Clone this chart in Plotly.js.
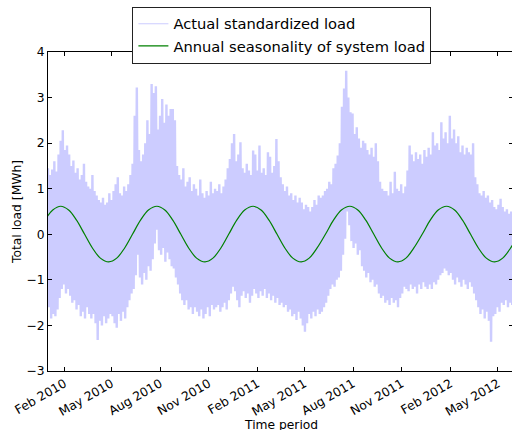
<!DOCTYPE html>
<html>
<head>
<meta charset="utf-8">
<script src="https://cdn.plot.ly/plotly-3.0.1.min.js"></script>
<style>
  html, body { margin: 0; padding: 0; overflow: hidden; background: #fff; }
  #chart { width: 514px; height: 430px; }
</style>
</head>
<body>
<div id="chart"></div>
<script>
// Standardized system load: daily high / low envelope, one sample every 4 days from 2010-01-01
const sampleStart = '2010-01-01';
const sampleStepDays = 4;

const loadHigh = [
  1.45, 1.3, 1.42, 1.6, 1.38, 1.75, 2.05, 2.28, 1.85, 1.95,
  1.75, 1.5, 1.62, 1.35, 1.45, 1.2, 1.3, 1.55, 1.15, 1.05,
  1.0, 1.3, 0.95, 0.85, 0.75, 0.7, 0.8, 0.65, 0.7, 0.9,
  0.75, 0.95, 1.1, 1.25, 0.9, 0.85, 1.05, 0.95, 1.1, 1.3,
  1.55, 2.6, 3.22, 1.85, 1.6, 1.75, 2.0, 2.5, 2.2, 3.3,
  3.1, 3.25, 2.3, 2.6, 2.97, 2.45, 2.85, 2.6, 2.75, 2.75,
  2.5, 1.5, 1.3, 1.2, 1.45, 1.05, 1.15, 1.25, 0.95, 1.1,
  1.0, 0.85, 1.2, 0.9, 0.8, 0.95, 0.85, 1.15, 0.9, 1.0,
  0.95, 1.1, 0.9, 1.05, 1.2, 1.45, 1.65, 2.0, 2.2, 1.6,
  1.75, 2.02, 1.45, 1.35, 1.55, 1.4, 1.3, 1.84, 1.75, 1.4,
  1.95, 1.35, 1.45, 1.3, 1.8, 1.7, 1.35, 1.5, 2.09, 1.6,
  1.25, 1.1, 0.95, 1.05, 0.85, 0.9, 0.75, 0.85, 0.7, 0.8,
  0.7, 0.55, 0.65, 0.6, 0.5, 0.6, 0.75, 0.65, 0.85, 0.8,
  0.85, 0.95, 1.0, 1.15, 1.1, 1.45, 1.55, 1.73, 2.0, 2.8,
  3.2, 3.59, 3.0, 2.68, 2.65, 2.2, 2.35, 2.1, 1.9, 2.05,
  2.0, 1.85, 1.75, 1.9, 1.7, 2.0, 1.6, 1.15, 1.0, 0.95,
  0.95, 0.85, 1.15, 0.9, 1.37, 1.0, 0.95, 1.1, 0.9, 1.05,
  1.4, 1.95, 1.75, 1.6, 1.8, 1.65, 1.75, 1.55, 1.85, 1.7,
  1.9, 1.75, 2.24, 1.95, 2.0, 1.85, 2.46, 2.1, 2.24, 2.0,
  2.6, 2.1, 2.3, 2.0, 2.15, 1.8, 1.95, 1.75, 1.9, 1.8,
  1.75, 2.0, 1.25, 1.1, 0.9, 0.85, 0.95, 0.8, 0.85, 0.7,
  0.75, 0.6, 0.55, 0.65, 0.78, 0.6, 0.5, 0.55, 0.45, 0.5
];

const loadLow = [
  -1.6, -1.85, -1.75, -1.8, -1.65, -1.4, -1.2, -1.1, -1.3, -1.2,
  -1.35, -1.5, -1.45, -1.65, -1.55, -1.8, -1.7, -1.85, -1.6, -1.75,
  -1.85, -1.75, -1.95, -2.32, -1.9, -2.0, -1.8, -1.95, -1.85, -1.75,
  -1.8, -1.95, -2.05, -1.75, -1.9, -1.7, -1.85, -1.6, -1.45, -1.3,
  -1.2, -0.9, -0.45, -0.95, -1.1, -0.85, -1.0, -0.7, -0.8, -0.55,
  -0.2, 0.1, -0.35, -0.45, -0.3, -0.6, -0.4, -0.55, -0.7, -0.75,
  -0.95, -1.1, -1.3, -1.45, -1.55, -1.45, -1.65, -1.6, -1.75, -1.6,
  -1.7, -1.8, -1.65, -1.85, -1.75, -1.6, -1.8, -1.55, -1.65, -1.6,
  -1.55, -1.7, -1.6, -1.5, -1.65, -1.45, -1.3, -1.15, -1.25, -1.45,
  -1.6, -1.35, -1.25, -1.4, -1.3, -1.5, -1.35, -1.2, -1.3, -1.4,
  -1.25, -1.35, -1.2, -1.4, -1.3, -1.45, -1.35, -1.5, -1.4, -1.55,
  -1.5, -1.6, -1.55, -1.7, -1.65, -1.8, -1.75, -1.88, -1.7, -1.85,
  -2.0, -2.14, -1.95, -1.75, -1.85, -1.7, -1.8, -1.65, -1.75, -1.7,
  -1.6, -1.5, -1.35, -1.2, -1.1, -1.15, -1.0, -0.95, -0.8, -0.45,
  -0.1, 0.5, 0.2, -0.15, -0.3, -0.2, -0.45, -0.35, -0.7, -0.8,
  -0.95, -0.85, -1.05, -1.0, -1.15, -1.1, -1.3, -1.4, -1.35, -1.5,
  -1.45, -1.55, -1.4, -1.5, -1.45, -1.6, -1.4, -1.3, -1.15, -1.2,
  -1.25, -1.1, -1.2, -1.15, -1.3, -1.1, -1.2, -1.05, -1.15, -1.2,
  -1.1, -1.2, -1.05, -1.1, -1.0, -0.9, -0.85, -0.75, -0.8, -0.9,
  -0.85, -1.0, -1.1, -0.95, -1.05, -1.15, -1.0, -1.1, -1.2, -1.05,
  -1.15, -1.3, -1.45, -1.6, -1.75, -1.65, -1.85, -1.7, -1.9, -2.36,
  -1.8, -1.75, -1.6, -1.7, -1.5, -1.55, -1.45, -1.6, -1.5, -1.55
];

// Fitted seasonal component of the system load
const seasonDates = [
  '2009-12-26', '2010-01-10', '2010-01-25', '2010-02-09', '2010-02-24', '2010-03-11', '2010-03-26', '2010-04-10',
  '2010-04-26', '2010-05-11', '2010-05-26', '2010-06-10', '2010-06-25', '2010-07-10', '2010-07-26', '2010-08-10',
  '2010-08-25', '2010-09-09', '2010-09-24', '2010-10-09', '2010-10-25', '2010-11-09', '2010-11-24', '2010-12-09',
  '2010-12-24', '2011-01-08', '2011-01-24', '2011-02-08', '2011-02-23', '2011-03-10', '2011-03-25', '2011-04-09',
  '2011-04-25', '2011-05-10', '2011-05-25', '2011-06-10', '2011-06-25', '2011-07-10', '2011-07-26', '2011-08-10',
  '2011-08-25', '2011-09-09', '2011-09-24', '2011-10-09', '2011-10-25', '2011-11-09', '2011-11-24', '2011-12-10',
  '2011-12-25', '2012-01-09', '2012-01-25', '2012-02-09', '2012-02-24', '2012-03-10', '2012-03-25', '2012-04-09',
  '2012-04-25', '2012-05-10', '2012-05-25', '2012-06-09'
];
const seasonValues = [
  0.31, 0.533, 0.615, 0.533, 0.31, 0.005, -0.30, -0.523,
  -0.605, -0.523, -0.30, 0.005, 0.31, 0.533, 0.615, 0.533,
  0.31, 0.005, -0.30, -0.523, -0.605, -0.523, -0.30, 0.005,
  0.31, 0.533, 0.615, 0.533, 0.31, 0.005, -0.30, -0.523,
  -0.605, -0.523, -0.30, 0.005, 0.31, 0.533, 0.615, 0.533,
  0.31, 0.005, -0.30, -0.523, -0.605, -0.523, -0.30, 0.005,
  0.31, 0.533, 0.615, 0.533, 0.31, 0.005, -0.30, -0.523,
  -0.605, -0.523, -0.30, 0.005
];

const tickDates = [
  '2010-02-01', '2010-05-01', '2010-08-01', '2010-11-01', '2011-02-01',
  '2011-05-01', '2011-08-01', '2011-11-01', '2012-02-01', '2012-05-01'
];
const tickLabels = [
  'Feb 2010', 'May 2010', 'Aug 2010', 'Nov 2010', 'Feb 2011',
  'May 2011', 'Aug 2011', 'Nov 2011', 'Feb 2012', 'May 2012'
];

// The raw series swings between the daily high and low; trace it as one line
const DAY = 86400000;
const t0 = Date.parse(sampleStart + 'T00:00:00Z');
const loadX = [];
const loadY = [];
for (let i = 0; i < loadHigh.length; i++) {
  const t = t0 + i * sampleStepDays * DAY;
  loadX.push(new Date(t).toISOString().slice(0, 19));
  loadY.push(loadHigh[i]);
  loadX.push(new Date(t + (sampleStepDays / 2) * DAY).toISOString().slice(0, 19));
  loadY.push(loadLow[i]);
}

const FONT = 'DejaVu Sans, Verdana, sans-serif';
const LOAD_COLOR = 'rgb(204,204,255)';

const traces = [
  {
    // dense load trace; its legend key is the thin-line entry below
    type: 'scatter', mode: 'lines',
    name: 'Actual standardized load',
    x: loadX, y: loadY,
    line: { color: LOAD_COLOR, width: 2.4 },
    showlegend: false,
    hoverinfo: 'skip'
  },
  {
    type: 'scatter', mode: 'lines',
    name: 'Actual standardized load',
    x: [null], y: [null],
    line: { color: LOAD_COLOR, width: 1 }
  },
  {
    type: 'scatter', mode: 'lines',
    name: 'Annual seasonality of system load',
    x: seasonDates, y: seasonValues,
    line: { color: '#008000', width: 1.2, shape: 'spline', smoothing: 1 }
  }
];

const layout = {
  width: 514, height: 430,
  margin: { l: 48, r: 1, t: 52, b: 59 },
  paper_bgcolor: '#fff', plot_bgcolor: '#fff',
  font: { family: FONT, size: 12.3, color: '#000' },
  showlegend: true,
  legend: {
    x: 0.503, xanchor: 'center', y: 1.142, yanchor: 'top',
    bgcolor: '#fff', bordercolor: '#222', borderwidth: 1,
    font: { family: FONT, size: 14.7, color: '#000' },
    tracegroupgap: 0
  },
  xaxis: {
    type: 'date',
    range: ['2010-01-01', '2012-05-29 12:00'],
    tickvals: tickDates, ticktext: tickLabels,
    tickangle: -30,
    ticks: 'inside', ticklen: 4, tickcolor: '#000',
    showline: true, linecolor: '#000', linewidth: 1, mirror: 'ticks',
    showgrid: false, zeroline: false,
    tickfont: { family: FONT, size: 12.3, color: '#000' }
  },
  yaxis: {
    range: [-3, 4],
    tickvals: [-3, -2, -1, 0, 1, 2, 3, 4],
    ticks: 'inside', ticklen: 4, tickcolor: '#000',
    showline: true, linecolor: '#000', linewidth: 1, mirror: 'ticks',
    showgrid: false, zeroline: false,
    tickfont: { family: FONT, size: 12.3, color: '#000' },
    title: { text: 'Total load [MWh]', font: { family: FONT, size: 12.3, color: '#000' }, standoff: 2 }
  },
  annotations: [
    {
      text: 'Time period', xref: 'paper', yref: 'paper',
      x: 0.502, y: -0.14, xanchor: 'center', yanchor: 'top',
      showarrow: false, font: { family: FONT, size: 12.3, color: '#000' }
    }
  ]
};

Plotly.newPlot('chart', traces, layout, { displayModeBar: false, staticPlot: true });
</script>
</body>
</html>
